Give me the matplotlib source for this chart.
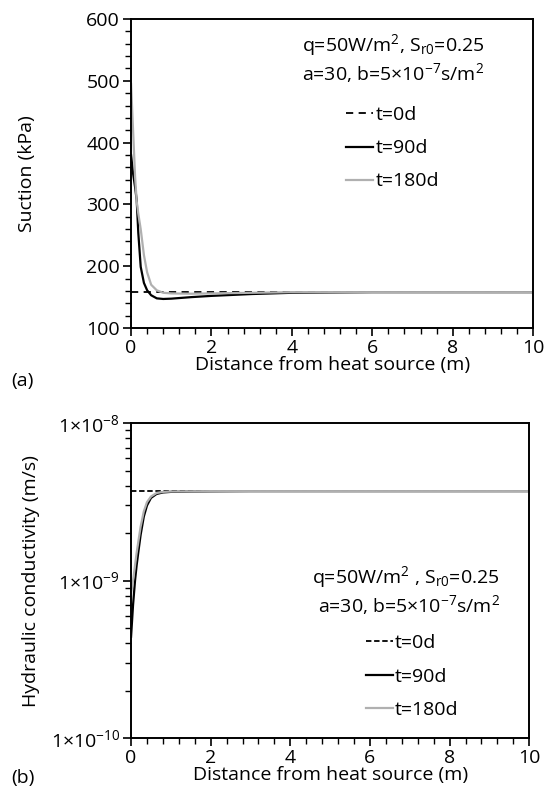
import numpy as np
import matplotlib
matplotlib.use("Agg")
import matplotlib.pyplot as plt
from matplotlib.ticker import MultipleLocator, LogLocator, FuncFormatter, NullFormatter

plt.rcParams['font.family'] = ['Open Sans', 'DejaVu Sans']
plt.rcParams['mathtext.fontset'] = 'custom'
plt.rcParams['mathtext.rm'] = 'Open Sans'
plt.rcParams['mathtext.it'] = 'Open Sans'
plt.rcParams['font.size'] = 14

# distance from heat source (m)
dist = [0, 0.05, 0.1, 0.14, 0.18, 0.24, 0.32, 0.4, 0.5, 0.64, 0.8, 1.0, 1.5, 2, 3, 4, 6, 8, 10]

# suction (kPa)
suction_0d = [158] * len(dist)
suction_90d = [380, 350, 328, 307, 254, 199, 173, 161, 153, 148, 147, 147.5, 150, 152, 155, 157, 158, 158, 158]
suction_180d = [495, 420, 345, 305, 285, 260, 218, 190, 170, 161, 157, 156, 155.5, 156, 157, 158, 158, 158, 158]

# hydraulic conductivity (m/s)
k_0d = [3.7e-9] * len(dist)
k_90d = [4.4e-10, 7e-10, 1.0e-9, 1.25e-9, 1.5e-9, 1.95e-9, 2.55e-9, 3.0e-9, 3.35e-9, 3.55e-9, 3.63e-9,
         3.66e-9, 3.68e-9, 3.69e-9, 3.7e-9, 3.7e-9, 3.7e-9, 3.7e-9, 3.7e-9]
k_180d = [8.3e-10, 1.0e-9, 1.25e-9, 1.5e-9, 1.75e-9, 2.2e-9, 2.75e-9, 3.15e-9, 3.42e-9, 3.6e-9, 3.66e-9,
          3.68e-9, 3.69e-9, 3.7e-9, 3.7e-9, 3.7e-9, 3.7e-9, 3.7e-9, 3.7e-9]

labels = ['t=0d', 't=90d', 't=180d']

fig = plt.figure(figsize=(5.53, 7.95), dpi=100)
ax1 = fig.add_axes([0.237, 0.5874, 0.727, 0.3887])
ax2 = fig.add_axes([0.237, 0.0717, 0.72, 0.396])

gray = '#b0b0b0'

# (a) suction
ax1.plot(dist, suction_0d, color='black', linestyle=(0, (4, 3)), linewidth=1.3, label=labels[0])
ax1.plot(dist, suction_90d, color='black', linewidth=1.6, label=labels[1])
ax1.plot(dist, suction_180d, color=gray, linewidth=1.6, label=labels[2])
ax1.set_xlim(0, 10)
ax1.set_ylim(100, 600)
ax1.yaxis.set_major_locator(MultipleLocator(100))
ax1.yaxis.set_minor_locator(MultipleLocator(20))
ax1.set_ylabel('Suction (kPa)')
ax1.yaxis.set_label_coords(-0.236, 0.5)
ax1.text(0.425, 0.916, r'q=50W/m$^2$, S$_{\rm r0}$=0.25', transform=ax1.transAxes, va='center', ha='left')
ax1.text(0.425, 0.825, r'a=30, b=5×10$^{-7}$s/m$^2$', transform=ax1.transAxes, va='center', ha='left')
ax1.legend(loc='upper left', bbox_to_anchor=(0.535, 0.718), frameon=False, borderpad=0,
           borderaxespad=0, handlelength=1.4, handletextpad=0.1, labelspacing=0.78)

# (b) hydraulic conductivity
ax2.semilogy(dist, k_0d, color='black', linestyle=(0, (3, 1.5)), linewidth=1.3, label=labels[0])
ax2.semilogy(dist, k_90d, color='black', linewidth=1.6, label=labels[1])
ax2.semilogy(dist, k_180d, color=gray, linewidth=1.6, label=labels[2])
ax2.set_xlim(0, 10)
ax2.set_ylim(1e-10, 1e-8)
ax2.yaxis.set_major_locator(LogLocator(base=10, numticks=10))
ax2.yaxis.set_minor_locator(LogLocator(base=10, subs=np.arange(2, 10), numticks=10))
ax2.yaxis.set_minor_formatter(NullFormatter())
ax2.yaxis.set_major_formatter(FuncFormatter(lambda v, p: r'1×10$^{%d}$' % round(np.log10(v))))
ax2.set_ylabel('Hydraulic conductivity (m/s)')
ax2.yaxis.set_label_coords(-0.229, 0.5)
ax2.text(0.455, 0.511, r'q=50W/m$^2$ , S$_{\rm r0}$=0.25', transform=ax2.transAxes, va='center', ha='left')
ax2.text(0.47, 0.422, r'a=30, b=5×10$^{-7}$s/m$^2$', transform=ax2.transAxes, va='center', ha='left')
ax2.legend(loc='upper left', bbox_to_anchor=(0.59, 0.33), frameon=False, borderpad=0,
           borderaxespad=0, handlelength=1.4, handletextpad=0.1, labelspacing=0.8)

for ax in (ax1, ax2):
    ax.xaxis.set_major_locator(MultipleLocator(2))
    ax.xaxis.set_minor_locator(MultipleLocator(0.4))
    ax.set_xlabel('Distance from heat source (m)', labelpad=-1)
    ax.tick_params(which='major', direction='out', length=6, width=1.2, pad=2)
    ax.tick_params(which='minor', direction='out', length=4, width=1.0)
    for s in ax.spines.values():
        s.set_linewidth(1.4)

fig.text(11 / 553, 1 - 381 / 795, '(a)', va='center', ha='left')
fig.text(11 / 553, 1 - 778 / 795, '(b)', va='center', ha='left')

fig.savefig('out.png', dpi=100)
